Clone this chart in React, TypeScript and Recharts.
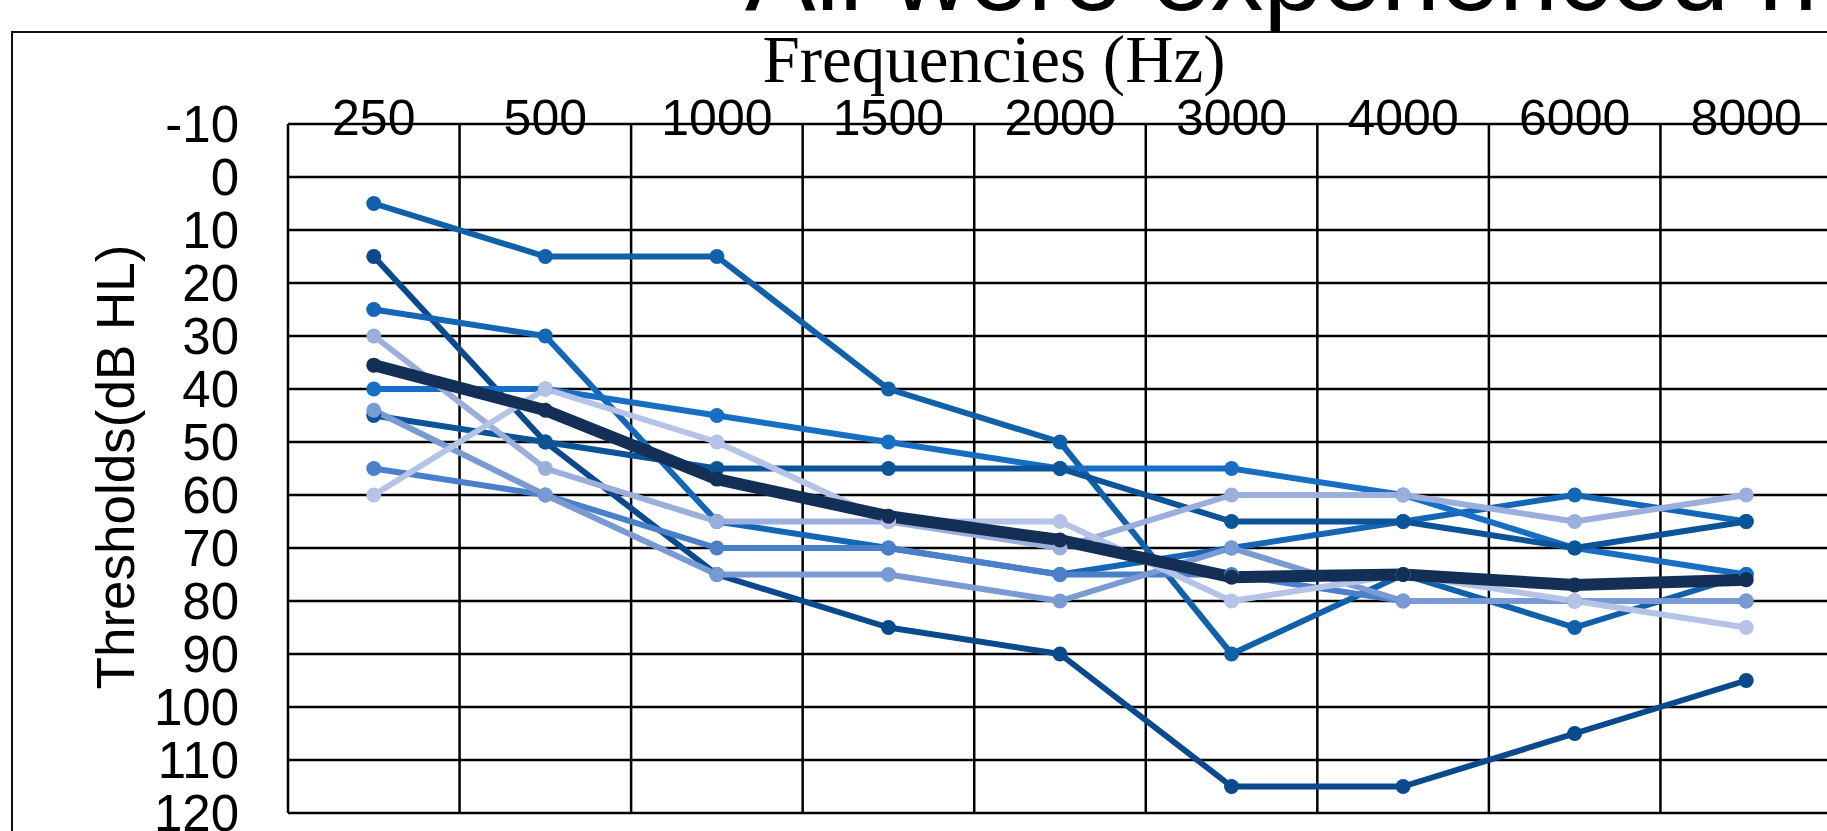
import { CartesianGrid, Line, LineChart, XAxis, YAxis } from "recharts";

// Frecuencias del audiograma (eje X, arriba)
const frequencies = ["250", "500", "1000", "1500", "2000", "3000", "4000", "6000", "8000"];
const thresholdTicks = [-10, 0, 10, 20, 30, 40, 50, 60, 70, 80, 90, 100, 110, 120];
const bandEdges = [-0.5, 0.5, 1.5, 2.5, 3.5, 4.5, 5.5, 6.5, 7.5, 8.5];

// Umbrales por sujeto (dB HL)
const subject1 = [5, 15, 15, 40, 50, 90, 75, 85, 75];
const subject2 = [15, 50, 75, 85, 90, 115, 115, 105, 95];
const subject3 = [25, 30, 65, 70, 75, 70, 65, 60, 65];
const subject4 = [30, 55, 65, 65, 70, 60, 60, 65, 60];
const subject5 = [40, 40, 45, 50, 55, 55, 60, 70, 75];
const subject6 = [44, 60, 75, 75, 80, 70, 80, 80, 80];
const subject7 = [45, 50, 55, 55, 55, 65, 65, 70, 65];
const subject8 = [55, 60, 70, 70, 75, 75, 80, 80, 80];
const subject9 = [60, 40, 50, 65, 65, 80, 75, 80, 85];
const meanThresholds = [35.5, 44, 57, 64, 68.5, 75.5, 75, 77, 76];

const subjects = [subject1, subject2, subject3, subject4, subject5, subject6, subject7, subject8, subject9];
// orden de dibujo (índices en subjects) y su color
const drawOrder = [0, 1, 2, 4, 6, 7, 5, 3, 8];
const drawColors = ["#1160aa", "#0a4a8c", "#1466b6", "#176ec4", "#0b5497", "#4a80c9", "#7a9ad3", "#9caedc", "#b4c3e6"];

const chartData = frequencies.map((freq, i) => {
    const row: any = { idx: i, freq, mean: meanThresholds[i] };
    subjects.forEach((s, k) => {
        row[`s${k + 1}`] = s[i];
    });
    return row;
});

const SANS = "'Liberation Sans', Arial, sans-serif";
const SERIF = "'Liberation Serif', 'Times New Roman', serif";

const FreqTick = ({ x, payload }: any) => (
    <text x={x} y={135} textAnchor="middle" fontFamily={SANS} fontSize={50} fill="#000">
        {frequencies[payload.value]}
    </text>
);

const ThresholdTick = ({ y, payload }: any) => (
    <text x={239} y={y} dy="0.36em" textAnchor="end" fontFamily={SANS} fontSize={51} fill="#000">
        {payload.value}
    </text>
);

const FreqLabel = () => (
    <text x={994} y={82} textAnchor="middle" fontFamily={SERIF} fontSize={67} fill="#000">
        Frequencies (Hz)
    </text>
);

const ThresholdLabel = () => (
    <text
        x={134}
        y={467}
        textAnchor="middle"
        transform="rotate(-90, 134, 467)"
        fontFamily={SANS}
        fontSize={53}
        fill="#000"
    >
        Thresholds(dB HL)
    </text>
);

export default function App() {
    return (
        <div style={{ position: "absolute", left: 0, top: 0, width: 1827, height: 831, overflow: "hidden", background: "#fff" }}>
            {/* Marco y título */}
            <svg width={1827} height={831} style={{ position: "absolute", left: 0, top: 0 }}>
                <rect x={12} y={32} width={1900} height={900} fill="none" stroke="#111" strokeWidth={2} />
                <text x={745} y={10} fontFamily={SANS} fontSize={106} fill="#000">
                    All were experienced h
                </text>
            </svg>
            <div style={{ position: "absolute", left: 0, top: 0 }}>
                <LineChart width={1840} height={831} data={chartData} margin={{ top: 0, right: 8, bottom: 18, left: 0 }}>
                    <CartesianGrid xAxisId="grid" yAxisId="y" stroke="#000" strokeWidth={2.5} />
                    <XAxis
                        xAxisId="main"
                        dataKey="idx"
                        type="number"
                        orientation="top"
                        domain={[-0.5, 8.5]}
                        ticks={[0, 1, 2, 3, 4, 5, 6, 7, 8]}
                        height={124}
                        axisLine={false}
                        tickLine={false}
                        tick={<FreqTick />}
                        label={<FreqLabel />}
                        interval={0}
                    />
                    <XAxis
                        xAxisId="grid"
                        dataKey="idx"
                        type="number"
                        domain={[-0.5, 8.5]}
                        ticks={bandEdges}
                        hide
                    />
                    <YAxis
                        yAxisId="y"
                        type="number"
                        domain={[-10, 120]}
                        ticks={thresholdTicks}
                        reversed
                        width={288}
                        axisLine={false}
                        tickLine={false}
                        tick={<ThresholdTick />}
                        label={<ThresholdLabel />}
                        interval={0}
                    />
                    {drawOrder.map((k, n) => (
                        <Line
                            key={k}
                            xAxisId="main"
                            yAxisId="y"
                            dataKey={`s${k + 1}`}
                            stroke={drawColors[n]}
                            strokeWidth={6}
                            strokeLinejoin="round"
                            dot={{ r: 7.5, fill: drawColors[n], stroke: drawColors[n], strokeWidth: 0 }}
                            activeDot={false}
                            isAnimationActive={false}
                        />
                    ))}
                    <Line
                        xAxisId="main"
                        yAxisId="y"
                        dataKey="mean"
                        stroke="#132f55"
                        strokeWidth={12}
                        strokeLinejoin="round"
                        dot={{ r: 7.5, fill: "#132f55", stroke: "#132f55", strokeWidth: 0 }}
                        activeDot={false}
                        isAnimationActive={false}
                    />
                </LineChart>
            </div>
        </div>
    );
}
